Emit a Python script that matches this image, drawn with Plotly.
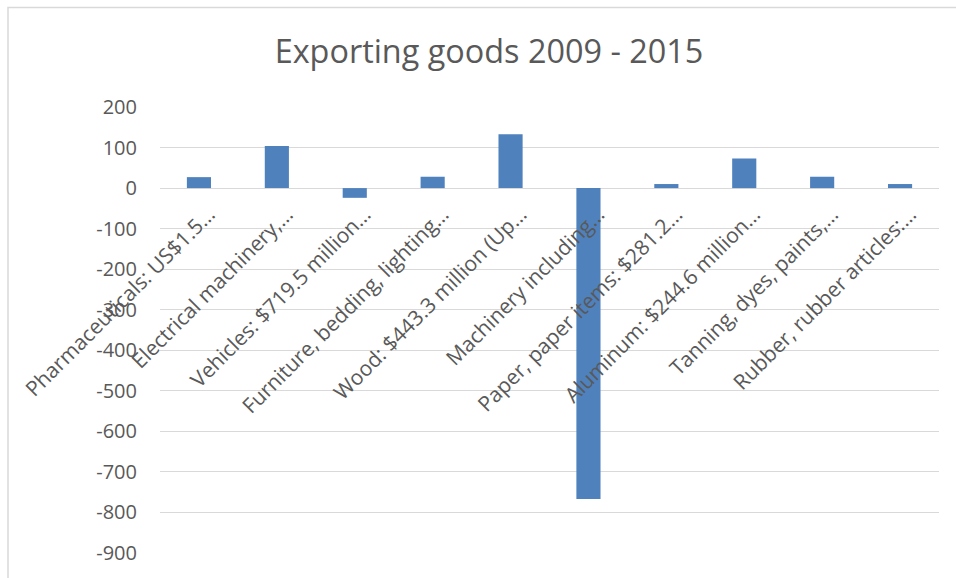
import plotly.graph_objects as go

# Export categories (labels are shown truncated, as on the axis)
categories = [
    "Pharmaceuticals: US$1.5…",
    "Electrical machinery,…",
    "Vehicles: $719.5 million…",
    "Furniture, bedding, lighting…",
    "Wood: $443.3 million (Up…",
    "Machinery including…",
    "Paper, paper items: $281.2…",
    "Aluminum: $244.6 million…",
    "Tanning, dyes, paints,…",
    "Rubber, rubber articles:…",
]

# Change in exports 2009 - 2015
changes = [27, 104, -24, 28, 133, -767, 10, 73, 28, 10]

# Value-axis ticks (plain hyphen for negatives)
y_tick_values = [200, 100, 0, -100, -200, -300, -400, -500, -600, -700, -800, -900]
y_tick_labels = ["200", "100", "0", "-100", "-200", "-300", "-400", "-500",
                 "-600", "-700", "-800", "-900"]

Y_MIN, Y_MAX = -900, 200
TEXT = "#595959"
FONT = "Open Sans"

W, H = 956, 578
M_L, M_R, M_T, M_B = 160, 17, 107, 23

fig = go.Figure(
    go.Bar(
        x=categories,
        y=changes,
        marker=dict(color="#4F81BD", line=dict(width=0)),
        showlegend=False,
    )
)

# Category axis crosses the value axis at zero
zero_pos = (0 - Y_MIN) / (Y_MAX - Y_MIN)

fig.update_layout(
    width=W,
    height=H,
    margin=dict(l=M_L, r=M_R, t=M_T, b=M_B),
    paper_bgcolor="white",
    plot_bgcolor="white",
    bargap=0.69,
    font=dict(family=FONT, color=TEXT),
    title=dict(
        text="Exporting goods 2009 - 2015",
        font=dict(family=FONT, size=32.4, color=TEXT),
        x=489 / W,
        xanchor="center",
        y=1 - 52 / H,
        yanchor="middle",
        xref="container",
        yref="container",
    ),
    xaxis=dict(
        type="category",
        anchor="free",
        position=zero_pos,
        showgrid=False,
        showline=False,
        ticks="",
        tickangle=-45,
        ticklabelshift=10,
        ticklabelstandoff=9,
        tickfont=dict(family=FONT, size=21, color=TEXT),
    ),
    yaxis=dict(
        range=[Y_MIN, Y_MAX],
        tickmode="array",
        tickvals=y_tick_values,
        ticktext=y_tick_labels,
        showgrid=True,
        gridcolor="#D9D9D9",
        gridwidth=1.3,
        zeroline=False,
        showline=False,
        ticks="",
        ticklabelstandoff=22,
        tickfont=dict(family=FONT, size=20, color=TEXT),
    ),
    shapes=[
        dict(
            type="rect",
            xref="paper",
            yref="paper",
            x0=(8 - M_L) / (W - M_L - M_R),
            x1=1.2,
            y0=-0.2,
            y1=1 + (M_T - 7) / (H - M_T - M_B),
            line=dict(color="#D9D9D9", width=1.5),
            fillcolor="rgba(0,0,0,0)",
            layer="below",
        )
    ],
)

fig.write_html("out.html")
